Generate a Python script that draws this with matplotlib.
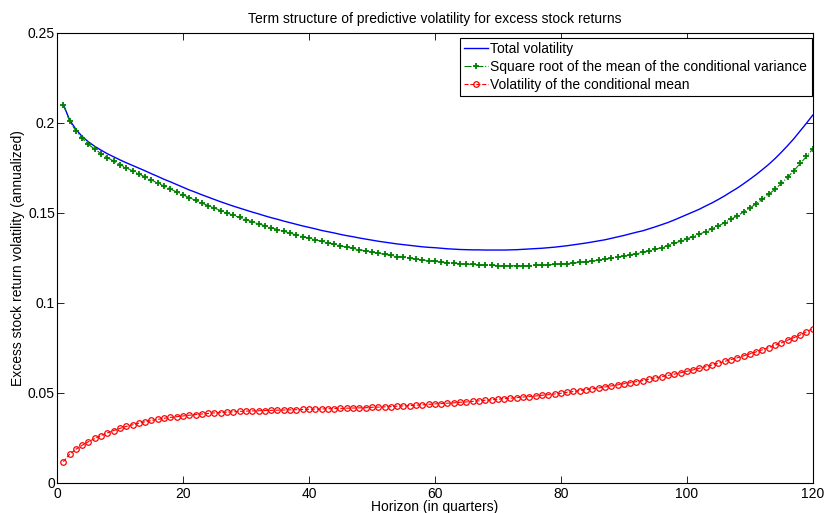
import matplotlib.pyplot as plt
import numpy as np
from matplotlib.ticker import FormatStrFormatter

plt.rcParams['font.family'] = ['Liberation Sans', 'DejaVu Sans']

# horizon in quarters
horizon = np.arange(1, 121)

# square root of the mean of the conditional variance
vol_cond_var = [
    0.2100, 0.2010, 0.1955, 0.1913, 0.1880, 0.1853, 0.1829, 0.1807, 0.1787, 0.1768,
    0.1750, 0.1733, 0.1716, 0.1699, 0.1682, 0.1665, 0.1648, 0.1632, 0.1616, 0.1600,
    0.1584, 0.1569, 0.1554, 0.1540, 0.1526, 0.1512, 0.1499, 0.1486, 0.1474, 0.1462,
    0.1450, 0.1439, 0.1428, 0.1417, 0.1407, 0.1397, 0.1387, 0.1377, 0.1368, 0.1359,
    0.1350, 0.1341, 0.1333, 0.1325, 0.1317, 0.1309, 0.1302, 0.1295, 0.1288, 0.1281,
    0.1275, 0.1269, 0.1263, 0.1257, 0.1252, 0.1247, 0.1242, 0.1238, 0.1234, 0.1230,
    0.1226, 0.1223, 0.1220, 0.1217, 0.1215, 0.1213, 0.1211, 0.1209, 0.1208, 0.1207,
    0.1206, 0.1206, 0.1206, 0.1206, 0.1207, 0.1208, 0.1209, 0.1211, 0.1213, 0.1215,
    0.1218, 0.1221, 0.1224, 0.1228, 0.1232, 0.1236, 0.1241, 0.1247, 0.1253, 0.1259,
    0.1266, 0.1273, 0.1280, 0.1288, 0.1297, 0.1307, 0.1318, 0.1330, 0.1342, 0.1355,
    0.1368, 0.1381, 0.1396, 0.1411, 0.1427, 0.1445, 0.1464, 0.1483, 0.1504, 0.1526,
    0.1550, 0.1575, 0.1602, 0.1631, 0.1663, 0.1697, 0.1734, 0.1774, 0.1813, 0.1855,
]

# volatility of the conditional mean
vol_cond_mean = [
    0.0117, 0.0158, 0.0186, 0.0208, 0.0228, 0.0246, 0.0262, 0.0277, 0.0290, 0.0302,
    0.0313, 0.0322, 0.0331, 0.0339, 0.0346, 0.0352, 0.0358, 0.0363, 0.0367, 0.0371,
    0.0375, 0.0379, 0.0382, 0.0385, 0.0388, 0.0390, 0.0392, 0.0394, 0.0396, 0.0398,
    0.0399, 0.0400, 0.0401, 0.0402, 0.0403, 0.0404, 0.0405, 0.0406, 0.0407, 0.0408,
    0.0409, 0.0410, 0.0411, 0.0412, 0.0413, 0.0414, 0.0415, 0.0416, 0.0417, 0.0419,
    0.0420, 0.0422, 0.0423, 0.0425, 0.0427, 0.0429, 0.0431, 0.0433, 0.0435, 0.0438,
    0.0440, 0.0442, 0.0444, 0.0447, 0.0449, 0.0452, 0.0455, 0.0458, 0.0461, 0.0464,
    0.0467, 0.0470, 0.0473, 0.0476, 0.0479, 0.0482, 0.0486, 0.0489, 0.0493, 0.0497,
    0.0502, 0.0507, 0.0512, 0.0517, 0.0522, 0.0527, 0.0532, 0.0538, 0.0544, 0.0550,
    0.0556, 0.0562, 0.0568, 0.0575, 0.0582, 0.0589, 0.0596, 0.0603, 0.0611, 0.0619,
    0.0627, 0.0636, 0.0645, 0.0654, 0.0664, 0.0674, 0.0684, 0.0694, 0.0705, 0.0716,
    0.0727, 0.0739, 0.0751, 0.0764, 0.0777, 0.0792, 0.0806, 0.0821, 0.0839, 0.0857,
]

# total volatility
vol_total = [
    0.2103, 0.2016, 0.1964, 0.1924, 0.1894, 0.1869, 0.1848, 0.1828, 0.1811, 0.1794,
    0.1778, 0.1763, 0.1748, 0.1733, 0.1717, 0.1702, 0.1686, 0.1672, 0.1657, 0.1642,
    0.1627, 0.1614, 0.1600, 0.1587, 0.1574, 0.1561, 0.1549, 0.1537, 0.1526, 0.1515,
    0.1504, 0.1494, 0.1483, 0.1473, 0.1464, 0.1454, 0.1445, 0.1436, 0.1427, 0.1419,
    0.1411, 0.1402, 0.1395, 0.1388, 0.1380, 0.1373, 0.1367, 0.1360, 0.1354, 0.1348,
    0.1342, 0.1337, 0.1332, 0.1327, 0.1323, 0.1319, 0.1315, 0.1311, 0.1308, 0.1306,
    0.1303, 0.1300, 0.1298, 0.1296, 0.1295, 0.1294, 0.1294, 0.1293, 0.1293, 0.1293,
    0.1293, 0.1294, 0.1295, 0.1297, 0.1299, 0.1301, 0.1303, 0.1306, 0.1309, 0.1313,
    0.1317, 0.1322, 0.1327, 0.1332, 0.1338, 0.1344, 0.1350, 0.1358, 0.1366, 0.1374,
    0.1383, 0.1392, 0.1400, 0.1411, 0.1422, 0.1434, 0.1446, 0.1460, 0.1475, 0.1490,
    0.1505, 0.1520, 0.1538, 0.1555, 0.1574, 0.1594, 0.1616, 0.1637, 0.1661, 0.1686,
    0.1712, 0.1740, 0.1769, 0.1801, 0.1836, 0.1873, 0.1912, 0.1955, 0.1998, 0.2043,
]

labels = [
    'Total volatility',
    'Square root of the mean of the conditional variance',
    'Volatility of the conditional mean',
]

fig = plt.figure(figsize=(8.26, 5.13), dpi=100)
ax = fig.add_axes([0.069, 0.059, 0.915, 0.877])

ax.plot(horizon, vol_total, '-', color='b', lw=1.0, label=labels[0])
ax.plot(horizon, vol_cond_var, '-.', color=(0, 0.5, 0), lw=0.8, marker='+',
        ms=4.5, mew=1.3, label=labels[1])
ax.plot(horizon, vol_cond_mean, '--', color='r', lw=0.8, marker='o', ms=4,
        mfc='none', mew=0.9, label=labels[2])

ax.set_xlim(0, 120)
ax.set_ylim(0, 0.25)
ax.set_xticks(np.arange(0, 121, 20))
ax.set_yticks(np.arange(0, 0.251, 0.05))
ax.yaxis.set_major_formatter(FormatStrFormatter('%g'))
ax.tick_params(direction='in', top=True, right=True, length=5, width=0.6,
               labelsize=10)
ax.tick_params(axis='x', pad=3)
ax.tick_params(axis='y', pad=1.5)
for s in ax.spines.values():
    s.set_linewidth(0.8)

ax.set_title('Term structure of predictive volatility for excess stock returns',
             fontsize=10, pad=7)
ax.set_xlabel('Horizon (in quarters)', fontsize=10, labelpad=-1)
ax.set_ylabel('Excess stock return volatility (annualized)', fontsize=10,
              labelpad=2)

leg = ax.legend(loc='upper right', fontsize=10, handlelength=1.75,
                handletextpad=0.15, borderpad=0.3, labelspacing=0.27,
                fancybox=False, framealpha=1, borderaxespad=0,
                bbox_to_anchor=(811.5 / 826, 1 - 38 / 513),
                bbox_transform=fig.transFigure)
leg.get_frame().set_edgecolor('black')
leg.get_frame().set_linewidth(0.8)

plt.savefig('out.png', dpi=100)
